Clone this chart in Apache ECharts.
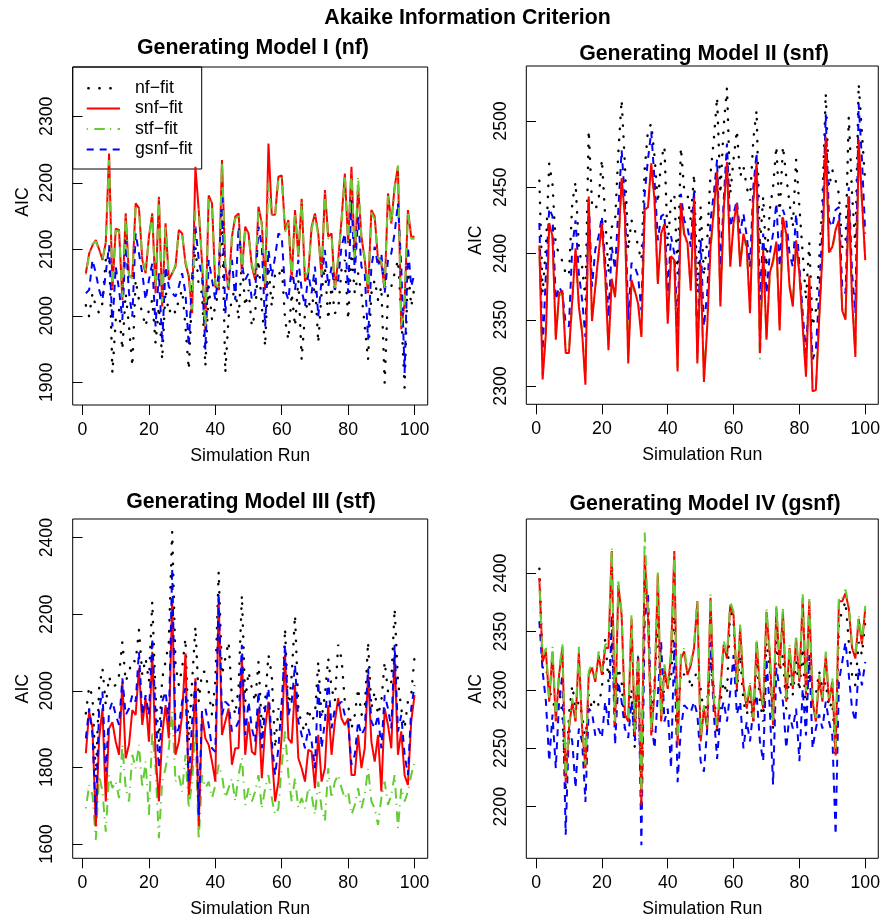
<!DOCTYPE html>
<html><head><meta charset="utf-8">
<script src="https://cdn.jsdelivr.net/npm/echarts@6/dist/echarts.min.js"></script>
<style>html,body{margin:0;padding:0;background:#fff}#c{width:883px;height:920px}</style>
</head><body><div id="c"></div>
<script>
// ---------------- data ----------------
const runs = Array.from({length:100}, (_, k) => k + 1);   // simulation run index 1..100
const xTicks = [0, 20, 40, 60, 80, 100];
const yTicks1 = [1900, 2000, 2100, 2200, 2300];
const yTicks2 = [2300, 2350, 2400, 2450, 2500];
const yTicks3 = [1600, 1800, 2000, 2200, 2400];
const yTicks4 = [2200, 2250, 2300, 2350, 2400];
const seriesNames = ['nf\u2212fit', 'snf\u2212fit', 'stf\u2212fit', 'gsnf\u2212fit'];
const panelTitles = ['Generating Model I (nf)', 'Generating Model II (snf)', 'Generating Model III (stf)', 'Generating Model IV (gsnf)'];

// Panel I (nf)
const p1_nf = [2016,1999,2034,2014,2004,2019,2084,2099,1914,1994,2009,1949,2034,1984,1924,2054,2024,2004,1984,2009,
 2024,1959,2014,1934,2039,2004,2014,2004,2024,2039,1984,1919,2034,2104,2044,2034,1924,2044,1994,2014,
 2039,2149,1914,1999,2024,2044,1994,2084,2014,2039,1984,2004,2084,2014,1954,2074,2014,2064,2059,2074,
 1994,1964,2034,1984,2054,1934,2004,2024,2004,2054,1959,2034,2074,1994,2044,2004,2009,2069,2084,1994,
 2094,2034,2064,2034,1984,1934,2034,2054,2024,2044,1899,2034,2044,2064,2084,2004,1892,2074,2014,2044];
const p1_snf = [2064,2094,2106,2114,2100,2084,2110,2244,2039,2131,2129,2024,2154,2059,2059,2169,2162,2084,2064,2119,
 2154,2034,2179,2014,2139,2054,2064,2074,2129,2124,2079,2059,2004,2224,2159,2079,1979,2181,2169,2044,
 2039,2234,2074,2039,2119,2149,2154,2064,2134,2124,2074,2054,2164,2139,2039,2259,2152,2152,2209,2211,
 2129,2144,2054,2159,2089,2176,2052,2064,2134,2154,2124,2059,2189,2119,2124,2039,2084,2144,2214,2109,
 2224,2084,2194,2119,2084,2034,2159,2149,2084,2079,2039,2184,2139,2194,2224,1980,2020,2159,2119,2119];
const p1_stf = [2062,2092,2108,2112,2098,2086,2108,2234,2042,2128,2127,2028,2150,2062,2056,2165,2160,2086,2068,2116,
 2150,2040,2176,2020,2136,2058,2062,2078,2126,2122,2082,2062,2010,2160,2162,2082,1980,2178,2166,2048,
 2042,2232,2078,2044,2116,2146,2150,2068,2130,2120,2078,2058,2160,2136,2044,2200,2150,2150,2205,2208,
 2126,2140,2058,2155,2092,2172,2056,2068,2130,2150,2120,2062,2185,2116,2120,2042,2088,2140,2210,2112,
 2215,2088,2210,2116,2088,2038,2155,2145,2088,2082,2042,2180,2136,2190,2226,1985,2024,2155,2116,2116];
const p1_gsnf = [2034,2039,2084,2064,2039,2024,2064,2106,1984,2074,2039,1994,2114,2034,1999,2124,2094,2064,2024,2054,
 2079,1984,2064,1959,2074,2044,2034,2029,2044,2064,2034,1954,2059,2134,2084,2059,1949,2084,2054,2024,
 2064,2184,2004,2059,2084,2024,2134,2074,2054,2064,2024,2034,2134,2104,1984,2099,2059,2089,2124,2119,
 2039,2024,2074,2039,2084,2039,2014,2064,2034,2074,1999,2054,2099,2044,2074,2039,2054,2104,2124,2034,
 2174,2064,2149,2074,2064,1964,2074,2104,2074,2094,2034,2084,2094,2124,2169,2074,1914,2104,2044,2064];

// Panel II (snf)
const p2_nf = [2455,2370,2405,2468,2452,2405,2401,2394,2385,2383,2438,2454,2405,2390,2365,2493,2438,2433,2440,2471,
 2428,2385,2420,2423,2476,2516,2466,2403,2425,2418,2405,2395,2463,2493,2498,2473,2438,2471,2481,2405,
 2440,2445,2385,2480,2448,2445,2425,2460,2370,2435,2383,2410,2460,2486,2518,2445,2496,2525,2445,2471,
 2493,2458,2466,2450,2440,2486,2508,2405,2443,2390,2433,2450,2481,2428,2481,2458,2438,2420,2471,2435,
 2400,2365,2408,2345,2357,2395,2440,2521,2450,2463,2455,2445,2405,2405,2503,2445,2405,2528,2491,2453];
const p2_snf = [2406,2305,2340,2423,2413,2335,2370,2372,2325,2325,2365,2404,2360,2340,2301,2443,2349,2375,2400,2423,
 2385,2327,2381,2367,2405,2457,2428,2317,2380,2372,2362,2337,2433,2435,2468,2440,2377,2415,2422,2347,
 2398,2395,2311,2438,2415,2408,2372,2442,2317,2393,2303,2345,2405,2433,2462,2360,2433,2469,2390,2423,
 2438,2390,2415,2405,2355,2440,2468,2325,2403,2335,2385,2395,2409,2342,2427,2415,2375,2360,2410,2385,
 2345,2307,2383,2296,2297,2350,2400,2488,2401,2405,2418,2425,2357,2350,2443,2365,2322,2486,2440,2395];
const p2_stf = [2404,2308,2342,2421,2411,2338,2368,2370,2327,2327,2363,2402,2362,2342,2304,2441,2351,2373,2398,2421,
 2383,2330,2379,2369,2403,2455,2426,2320,2378,2370,2364,2340,2431,2433,2466,2438,2379,2413,2420,2349,
 2396,2393,2314,2436,2413,2406,2374,2440,2320,2391,2306,2347,2403,2431,2460,2362,2431,2467,2392,2421,
 2436,2392,2413,2403,2357,2438,2466,2320,2401,2337,2383,2393,2407,2344,2425,2413,2377,2362,2408,2383,
 2347,2310,2381,2299,2298,2352,2398,2486,2399,2403,2416,2423,2359,2352,2441,2367,2325,2484,2438,2397];
const p2_gsnf = [2423,2327,2385,2434,2428,2365,2375,2370,2347,2345,2405,2425,2385,2365,2337,2440,2375,2403,2413,2428,
 2395,2352,2405,2388,2433,2478,2440,2350,2393,2390,2383,2357,2445,2471,2492,2455,2410,2428,2430,2370,
 2413,2400,2345,2445,2425,2420,2405,2448,2325,2410,2345,2370,2425,2445,2471,2390,2440,2483,2420,2430,
 2440,2415,2430,2413,2390,2450,2476,2365,2415,2370,2400,2415,2438,2390,2433,2425,2400,2390,2430,2390,
 2355,2325,2375,2320,2327,2370,2420,2505,2425,2420,2433,2435,2375,2370,2450,2385,2355,2513,2471,2415];

// Panel III (stf)
const p3_nf = [1941,2011,1985,1772,2007,2059,1963,2037,2011,2015,2041,2128,2024,2050,2081,2076,2159,2041,2085,2024,
 2233,1989,1867,2033,2076,2128,2416,2068,2015,2059,2137,1867,2024,2168,1972,2050,2050,1998,1937,2024,
 2311,2041,2085,2128,1981,1937,2007,2250,1972,2050,2007,1972,2076,1902,1972,2094,2041,1850,1954,1920,
 2163,1937,2041,2198,1954,1911,1894,1954,1920,1937,2076,1928,1989,2085,2007,1972,2120,2085,1972,1963,
 1902,1937,2007,1937,1954,2128,1954,1998,1937,1972,2076,1998,2024,2215,2024,1954,1902,1972,1989,2089];
const p3_snf = [1837,1946,1902,1646,1876,1954,1711,1902,1918,1867,1833,2024,1824,1859,1950,1937,2059,1911,1981,1867,
 2102,1833,1711,1885,1963,1876,2242,1833,1867,1937,2098,1728,1815,2033,1646,1937,1876,1859,1815,1763,
 2242,1885,1920,1954,1807,1850,1850,2085,1833,1920,1841,1833,1954,1772,1902,1972,1841,1711,1763,1885,
 2094,1876,1863,2015,1824,1798,1763,1846,1841,1746,1885,1763,1798,1963,1833,1920,1981,1928,1911,1928,
 1780,1780,1885,1798,1850,2041,1867,1815,1885,1737,1954,1911,1850,2094,1833,1894,1780,1754,1920,1989];
const p3_stf = [1693,1754,1728,1611,1780,1737,1632,1780,1746,1763,1720,1859,1746,1711,1833,1798,1859,1746,1815,1676,
 1894,1798,1615,1763,1798,1850,1946,1763,1780,1737,1833,1693,1763,1894,1611,1780,1746,1763,1720,1754,
 1807,1780,1720,1746,1772,1711,1780,1824,1702,1746,1711,1737,1780,1693,1746,1780,1720,1676,1693,1807,
 1894,1780,1711,1772,1693,1720,1693,1746,1728,1676,1763,1693,1659,1798,1720,1763,1780,1746,1720,1737,
 1676,1702,1746,1693,1728,1798,1711,1693,1650,1720,1763,1702,1728,1780,1641,1746,1711,1737,1780,1815];
const p3_gsnf = [1876,1954,1885,1676,1954,1998,1789,1946,1972,1937,1911,2033,1937,1954,1989,1972,2102,1937,1989,1937,
 2137,1937,1798,1972,1998,1920,2320,1885,1902,1972,2007,1763,1920,2024,1676,1954,1954,1911,1850,1841,
 2255,1937,1972,1963,1894,1902,1920,2120,1885,1972,1902,1867,1998,1850,1954,2007,1867,1780,1850,1972,
 2120,1937,1972,2068,1920,1885,1850,1902,1867,1798,2024,1850,1920,2033,1902,1954,1963,1972,1937,1920,
 1807,1833,1920,1885,1902,2059,1920,1902,1937,1850,1989,1954,1902,2120,1894,1937,1833,1780,1954,2015];

// Panel IV (gsnf)
const p4_nf = [2404,2319,2321,2301,2290,2284,2301,2279,2213,2279,2304,2284,2290,2279,2256,2296,2284,2293,2287,2301,
 2344,2307,2341,2284,2319,2307,2267,2273,2301,2250,2330,2199,2404,2364,2273,2307,2356,2290,2301,2313,
 2307,2364,2273,2316,2313,2319,2301,2310,2316,2301,2279,2290,2327,2301,2261,2290,2307,2296,2370,2359,
 2299,2330,2290,2279,2290,2273,2330,2290,2273,2341,2319,2267,2341,2316,2330,2284,2313,2296,2324,2299,
 2336,2279,2324,2290,2296,2316,2301,2307,2284,2290,2244,2359,2367,2376,2341,2313,2304,2341,2330,2359];
const p4_snf = [2396,2324,2333,2290,2333,2273,2313,2337,2221,2267,2290,2273,2333,2267,2233,2313,2319,2307,2330,2313,
 2336,2336,2419,2270,2390,2364,2279,2273,2361,2261,2327,2201,2415,2364,2261,2299,2399,2273,2319,2301,
 2330,2419,2253,2327,2333,2313,2321,2336,2376,2256,2284,2267,2379,2290,2267,2301,2339,2327,2373,2364,
 2301,2353,2304,2284,2304,2273,2341,2301,2284,2367,2330,2270,2370,2319,2367,2290,2336,2301,2344,2307,
 2379,2296,2376,2290,2273,2310,2290,2330,2290,2307,2244,2376,2376,2383,2370,2336,2327,2361,2339,2370];
const p4_stf = [2392,2328,2336,2293,2337,2276,2316,2340,2224,2270,2293,2276,2337,2270,2236,2316,2322,2310,2333,2316,
 2339,2340,2422,2273,2393,2367,2282,2276,2364,2264,2330,2210,2435,2367,2264,2302,2402,2276,2322,2304,
 2333,2416,2256,2330,2336,2316,2324,2339,2378,2259,2287,2270,2382,2293,2270,2304,2342,2330,2376,2367,
 2304,2356,2307,2287,2307,2276,2344,2304,2287,2370,2333,2273,2373,2322,2370,2293,2339,2304,2347,2310,
 2382,2299,2378,2293,2276,2313,2293,2333,2293,2310,2250,2380,2379,2386,2373,2339,2330,2364,2342,2372];
const p4_gsnf = [2359,2316,2290,2239,2279,2233,2290,2313,2176,2267,2256,2216,2267,2256,2204,2284,2281,2261,2267,2259,
 2290,2270,2364,2253,2307,2290,2267,2259,2290,2256,2330,2167,2359,2384,2273,2250,2296,2341,2273,2284,
 2233,2341,2221,2267,2287,2284,2281,2290,2279,2239,2230,2267,2341,2279,2241,2279,2290,2273,2299,2330,
 2279,2290,2250,2273,2256,2284,2296,2256,2239,2327,2284,2219,2319,2301,2290,2250,2279,2267,2284,2239,
 2301,2261,2330,2250,2267,2279,2267,2290,2273,2261,2176,2307,2324,2341,2313,2284,2273,2319,2304,2324];

// ---------------- styling / layout ----------------
const FONT = '"Liberation Sans", Arial, Helvetica, sans-serif';
const AX_FS = 17.7, TITLE_FS = 21.3;
const STY = {
  nf:   {color:'#000000', width:2.4, type:[0.4, 10.6], cap:'round'},
  snf:  {color:'#FF0000', width:2, type:'solid', cap:'butt'},
  stf:  {color:'#66CC33', width:2, type:[1.2, 6.4, 10.5, 5.2], cap:'butt'},
  gsnf: {color:'#0000FF', width:2, type:[7, 6], cap:'butt'}
};
const panels = [
  {grid:{left:72.7, top:67,  width:355,   height:338},   ymin:1866,   ymax:2374,   ticks:yTicks1,
   data:{nf:p1_nf, snf:p1_snf, stf:p1_stf, gsnf:p1_gsnf}, order:['nf','snf','gsnf','stf'],
   title:{x:253, cy:48}, aicShift:34},
  {grid:{left:526.3, top:66, width:355.3, height:338.3}, ymin:2286.2, ymax:2541.5, ticks:yTicks2,
   data:{nf:p2_nf, snf:p2_snf, stf:p2_stf, gsnf:p2_gsnf}, order:['nf','stf','gsnf','snf'],
   title:{x:704, cy:54}, aicShift:-5},
  {grid:{left:72.7, top:519, width:355,   height:339.3}, ymin:1562.7, ymax:2448.8, ticks:yTicks3,
   data:{nf:p3_nf, snf:p3_snf, stf:p3_stf, gsnf:p3_gsnf}, order:['nf','stf','snf','gsnf'],
   title:{x:251, cy:502}, aicShift:0},
  {grid:{left:526.3, top:519, width:355.3, height:339.3}, ymin:2155.8, ymax:2446.5, ticks:yTicks4,
   data:{nf:p4_nf, snf:p4_snf, stf:p4_stf, gsnf:p4_gsnf}, order:['nf','gsnf','snf','stf'],
   title:{x:705, cy:504}, aicShift:0}
];
const nameOf = {nf:seriesNames[0], snf:seriesNames[1], stf:seriesNames[2], gsnf:seriesNames[3]};

const grids = [], xAxes = [], yAxes = [], series = [], titles = [];
titles.push({text:'Akaike Information Criterion', left:467.5, top:18 - TITLE_FS/2, textAlign:'center', padding:0,
  textStyle:{fontFamily:FONT, fontSize:TITLE_FS, fontWeight:'bold', color:'#000'}});
panels.forEach((p, i) => {
  grids.push(Object.assign({show:true, borderColor:'#000', borderWidth:1, backgroundColor:'transparent'}, p.grid));
  xAxes.push({gridIndex:i, type:'value', min:-2.96, max:103.96,
    axisLine:{show:false}, splitLine:{show:false},
    axisTick:{show:true, customValues:xTicks, length:10, lineStyle:{color:'#000', width:1}},
    axisLabel:{customValues:xTicks, margin:16, fontSize:AX_FS, color:'#000', fontFamily:FONT,
      formatter:v => String(v)},
    name:'Simulation Run', nameLocation:'middle', nameGap:42,
    nameTextStyle:{fontSize:AX_FS, color:'#000', fontFamily:FONT}});
  const sh = p.aicShift;
  yAxes.push({gridIndex:i, type:'value', min:p.ymin, max:p.ymax,
    axisLine:{show:false}, splitLine:{show:false},
    axisTick:{show:true, customValues:p.ticks, length:10, lineStyle:{color:'#000', width:1}},
    axisLabel:{customValues:p.ticks, rotate:90, margin:16.5, fontSize:AX_FS, color:'#000', fontFamily:FONT,
      formatter:v => String(v)},
    name:'AIC', nameLocation:'middle', nameGap:41, nameRotate:90,
    nameTextStyle:{fontSize:AX_FS, color:'#000', fontFamily:FONT,
      padding: sh > 0 ? [0, 0, 0, 2*sh] : [0, -2*sh, 0, 0]}});
  titles.push({text:panelTitles[i], left:p.title.x, top:p.title.cy - TITLE_FS/2, textAlign:'center', padding:0,
    textStyle:{fontFamily:FONT, fontSize:TITLE_FS, fontWeight:'bold', color:'#000'}});
  p.order.forEach(key => {
    const vals = p.data[key];
    series.push({type:'line', name:nameOf[key], xAxisIndex:i, yAxisIndex:i,
      data: runs.map((r, k) => [r, vals[k]]),
      symbol:'none', silent:true, animation:false, clip:true,
      lineStyle:Object.assign({}, STY[key])});
  });
});

// legend drawn in panel I (top-left corner of the plot box)
const legendKeys = ['nf','snf','stf','gsnf'];
const legRows = [88.3, 108.6, 129, 149.5];
const graphic = [{type:'rect', shape:{x:72.7, y:67, width:129, height:102},
  style:{fill:'none', stroke:'#000', lineWidth:1}, silent:true}];
legendKeys.forEach((k, j) => {
  const s = STY[k];
  graphic.push({type:'line', shape:{x1:86.7, y1:legRows[j], x2:120, y2:legRows[j]},
    style:{stroke:s.color, lineWidth:s.width, lineDash: s.type === 'solid' ? null : s.type,
      lineDashOffset: k === 'nf' ? -1.6 : 0, lineCap:s.cap}, silent:true});
  graphic.push({type:'text', x:135, y:legRows[j], style:{text:seriesNames[j], fontSize:AX_FS,
    fontFamily:FONT, fill:'#000', verticalAlign:'middle', align:'left'}, silent:true});
});

const chart = echarts.init(document.getElementById('c'), null, {renderer:'canvas', width:883, height:920});
chart.setOption({animation:false, backgroundColor:'#fff', title:titles, grid:grids,
  xAxis:xAxes, yAxis:yAxes, series:series, graphic:graphic});
</script></body></html>
